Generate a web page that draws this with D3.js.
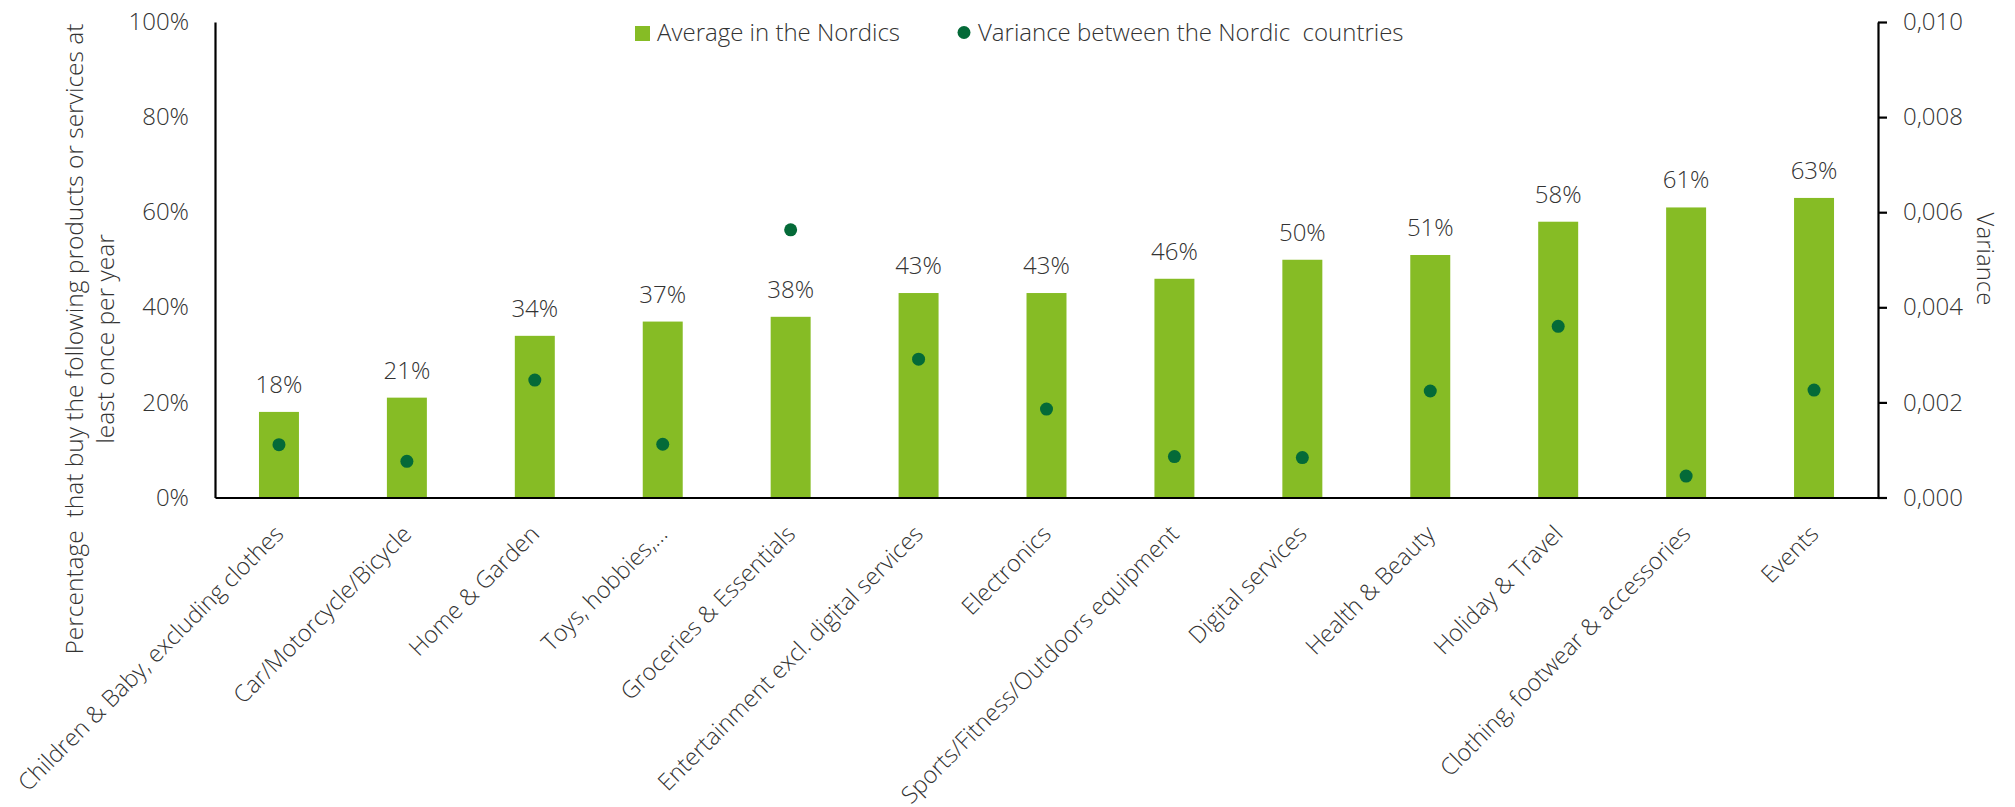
<!DOCTYPE html>
<html>
<head>
<meta charset="utf-8">
<script src="https://cdn.jsdelivr.net/npm/d3@7/dist/d3.min.js"></script>
<style>
  html, body { margin: 0; padding: 0; background: #fff; }
  svg { display: block; font-family: "Open Sans", sans-serif; font-weight: 300; }
  svg text { white-space: pre; }
  .axis text { font-family: "Open Sans", sans-serif; font-weight: 300; }
</style>
</head>
<body>
<svg id="chart" width="2015" height="807"></svg>
<script>
// Product / service categories
const categories = [
  "Children & Baby, excluding clothes",
  "Car/Motorcycle/Bicycle",
  "Home & Garden",
  "Toys, hobbies,...",
  "Groceries & Essentials",
  "Entertainment excl. digital services",
  "Electronics",
  "Sports/Fitness/Outdoors equipment",
  "Digital services",
  "Health & Beauty",
  "Holiday & Travel",
  "Clothing, footwear & accessories",
  "Events"
];

// Share that buys at least once per year (average in the Nordics)
const averageNordics = [0.18, 0.21, 0.34, 0.37, 0.38, 0.43, 0.43, 0.46, 0.50, 0.51, 0.58, 0.61, 0.63];

// Variance between the Nordic countries
const varianceNordics = [0.00111, 0.00076, 0.00247, 0.00112, 0.00563, 0.00291, 0.00186, 0.00086, 0.00084, 0.00224, 0.00360, 0.00045, 0.00226];

// Axis ticks
const leftTicks = [0, 0.2, 0.4, 0.6, 0.8, 1.0];
const rightTicks = [0, 0.002, 0.004, 0.006, 0.008, 0.010];

const legendLabels = ["Average in the Nordics", "Variance between the Nordic  countries"];

const BAR = "#86BC25";
const DOT = "#046A38";
const TXT = "#333333";
const FS = "24px";

const svg = d3.select("#chart");

const plot = { left: 215, right: 1878, top: 22, bottom: 497.5 };

const x = d3.scaleBand()
  .domain(categories)
  .range([plot.left, plot.right])
  .paddingInner(0.6875)
  .paddingOuter(0.34375);

const y = d3.scaleLinear().domain([0, 1]).range([plot.bottom, plot.top]);
const y2 = d3.scaleLinear().domain([0, 0.01]).range([plot.bottom, plot.top]);

const commaLocale = d3.formatLocale({ decimal: ",", thousands: ".", grouping: [3], currency: ["", ""] });

// Bars
svg.append("g").selectAll("rect")
  .data(averageNordics)
  .join("rect")
  .attr("x", (d, i) => x(categories[i]))
  .attr("width", x.bandwidth())
  .attr("y", d => y(d))
  .attr("height", d => y(0) - y(d))
  .attr("fill", BAR);

// Bar value labels
svg.append("g").selectAll("text")
  .data(averageNordics)
  .join("text")
  .attr("x", (d, i) => x(categories[i]) + x.bandwidth() / 2)
  .attr("y", d => y(d) - 19)
  .attr("text-anchor", "middle")
  .attr("font-size", FS)
  .attr("fill", TXT)
  .text(d => d3.format(".0%")(d));

// Variance dots
svg.append("g").selectAll("circle")
  .data(varianceNordics)
  .join("circle")
  .attr("cx", (d, i) => x(categories[i]) + x.bandwidth() / 2)
  .attr("cy", d => y2(d))
  .attr("r", 6.5)
  .attr("fill", DOT);

// Left axis
const gLeft = svg.append("g")
  .attr("class", "axis")
  .attr("transform", `translate(${plot.left},0)`)
  .call(d3.axisLeft(y).tickValues(leftTicks).tickSize(0).tickPadding(26).tickFormat(d3.format(".0%")));
gLeft.select(".domain").attr("stroke", "#000").attr("stroke-width", 2.2);
gLeft.selectAll("text").attr("font-size", FS).attr("fill", TXT);

// Right axis
const gRight = svg.append("g")
  .attr("class", "axis")
  .attr("transform", `translate(${plot.right},0)`)
  .call(d3.axisRight(y2).tickValues(rightTicks).tickSizeInner(9).tickSizeOuter(0).tickPadding(16)
    .tickFormat(commaLocale.format(".3f")));
gRight.select(".domain").attr("stroke", "#000").attr("stroke-width", 2.2);
gRight.selectAll(".tick line").attr("stroke", "#000").attr("stroke-width", 2.2);
gRight.selectAll("text").attr("font-size", FS).attr("fill", TXT);

// Bottom axis with rotated category labels
const gBottom = svg.append("g")
  .attr("class", "axis")
  .attr("transform", `translate(0,${plot.bottom})`)
  .call(d3.axisBottom(x).tickSize(0).tickSizeOuter(0));
gBottom.select(".domain").attr("stroke", "#000").attr("stroke-width", 2.2);
gBottom.selectAll(".tick text")
  .attr("font-size", "23.5px")
  .attr("fill", TXT)
  .attr("text-anchor", "end")
  .attr("dy", null)
  .attr("y", 0)
  .attr("transform", "translate(6,38) rotate(-45)");

// Left axis title (two lines)
const leftTitle = svg.append("text")
  .attr("transform", "translate(83,339) rotate(-90)")
  .attr("text-anchor", "middle")
  .attr("font-size", "24.5px")
  .attr("fill", TXT);
leftTitle.append("tspan").attr("x", 0).attr("y", 0).text("Percentage  that buy the following products or services at");
leftTitle.append("tspan").attr("x", 0).attr("y", 31).text("least once per year");

// Right axis title
svg.append("text")
  .attr("transform", "translate(1977,259) rotate(90)")
  .attr("text-anchor", "middle")
  .attr("font-size", FS)
  .attr("fill", TXT)
  .text("Variance");

// Legend
const legend = svg.append("g");
legend.append("rect").attr("x", 635).attr("y", 26).attr("width", 15).attr("height", 15).attr("fill", BAR);
legend.append("text").attr("x", 657).attr("y", 40.5).attr("font-size", FS).attr("fill", TXT).text(legendLabels[0]);
legend.append("circle").attr("cx", 964).attr("cy", 32.5).attr("r", 6.5).attr("fill", DOT);
legend.append("text").attr("x", 978).attr("y", 40.5).attr("font-size", FS).attr("fill", TXT).text(legendLabels[1]);
</script>
</body>
</html>
